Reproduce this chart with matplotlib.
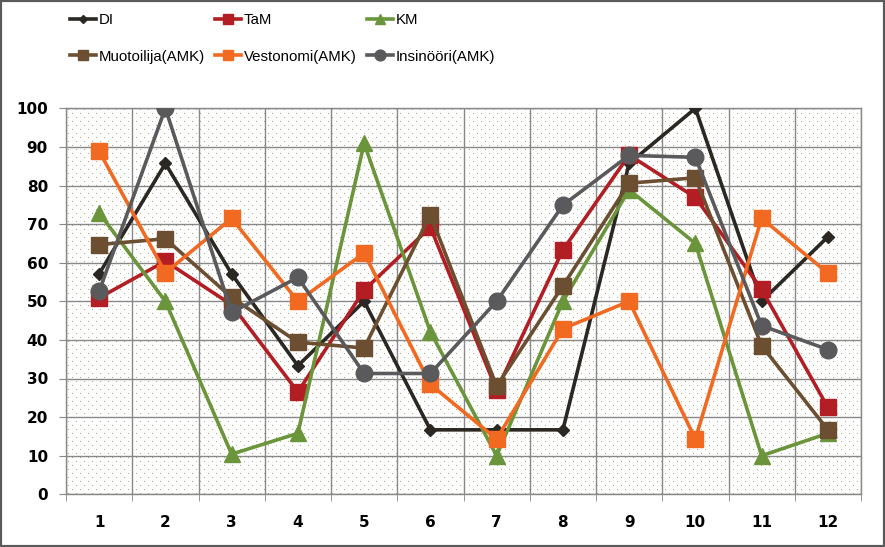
import matplotlib.pyplot as plt
import numpy as np
from matplotlib.lines import Line2D
from matplotlib.patches import Rectangle

months = list(range(1, 13))

di = [57.1, 85.7, 57.1, 33.3, 50.0, 16.7, 16.7, 16.7, 85.7, 100.0, 50.0, 66.7]
tam = [50.9, 60.4, 49.1, 26.5, 52.9, 69.2, 27.0, 63.3, 87.9, 76.9, 53.1, 22.5]
km = [72.9, 50.0, 10.4, 15.8, 90.9, 42.1, 10.0, 50.0, 78.9, 65.0, 10.0, 15.8]
muotoilija = [64.7, 66.2, 51.0, 39.4, 37.9, 72.4, 28.0, 54.0, 80.6, 82.0, 38.5, 16.7]
vestonomi = [88.9, 57.4, 71.5, 50.0, 62.5, 28.5, 14.3, 42.9, 50.0, 14.3, 71.5, 57.3]
insinoori = [52.6, 100.0, 47.1, 56.2, 31.3, 31.3, 50.0, 74.9, 87.8, 87.3, 43.7, 37.5]

series = [
    ('DI', di, '#2b2823', 'D', 6.5),
    ('TaM', tam, '#b31e24', 's', 12),
    ('KM', km, '#6a953a', '^', 11.5),
    ('Muotoilija(AMK)', muotoilija, '#6c4e31', 's', 12),
    ('Vestonomi(AMK)', vestonomi, '#f26a21', 's', 12),
    ('Insinööri(AMK)', insinoori, '#5a5a5c', 'o', 12),
]

fig = plt.figure(figsize=(8.85, 5.47), dpi=100)
ax = fig.add_axes([66 / 885, 52.7 / 547, 795 / 885, 386 / 547])

# dotted background like the excel fill
h, w = 386, 795
bg = np.ones((h, w, 4))
dot = np.array([0.68, 0.68, 0.47, 1.0])
for r in range(1, h, 4):
    off = 2 if (r // 4) % 2 == 0 else 6
    bg[r, off::8] = dot
ax.imshow(bg, extent=[0, 1, 0, 1], transform=ax.transAxes, aspect='auto',
          interpolation='none', zorder=0)

handles = []
for name, vals, col, mk, ms in series:
    ax.plot(months, vals, color=col, lw=2.6, marker=mk, ms=ms,
            mfc=col, mec=col, label=name, zorder=3)
    handles.append(Line2D([], [], color=col, lw=2.6, marker=mk, ms=ms * 0.65,
                          mfc=col, mec=col))

ax.set_xlim(0.5, 12.5)
ax.set_ylim(0, 100)
ax.set_yticks(range(0, 101, 10))
ax.set_xticks(months)
ax.set_xticks(np.arange(0.5, 12.6, 1), minor=True)
ax.set_axisbelow(True)
ax.grid(True, which='major', axis='y', color='#888888', lw=1.0)
ax.grid(True, which='minor', axis='x', color='#888888', lw=1.0)
ax.tick_params(axis='x', which='major', length=0, pad=15)
ax.tick_params(axis='x', which='minor', length=5, color='#888888', direction='out')
ax.tick_params(axis='y', length=5, color='#888888', pad=8)
for lab in ax.get_xticklabels() + ax.get_yticklabels():
    lab.set_fontweight('bold')
    lab.set_fontsize(11)
for s in ax.spines.values():
    s.set_color('#888888')
    s.set_linewidth(1.0)

names = [s[0] for s in series]
order = [0, 3, 1, 4, 2, 5]
fig.legend([handles[i] for i in order], [names[i] for i in order], ncol=3,
           loc='upper left', bbox_to_anchor=(64 / 885, 1 - 7 / 547),
           frameon=False, handlelength=1.7, handletextpad=0.2,
           columnspacing=0.7, labelspacing=1.5, borderaxespad=0,
           prop={'family': 'Liberation Sans', 'size': 10.8})

fig.patches.append(Rectangle((0, 0), 1, 1, transform=fig.transFigure, fill=False,
                             edgecolor='#5a5a5a', lw=3))

fig.savefig('out.png', dpi=100)
